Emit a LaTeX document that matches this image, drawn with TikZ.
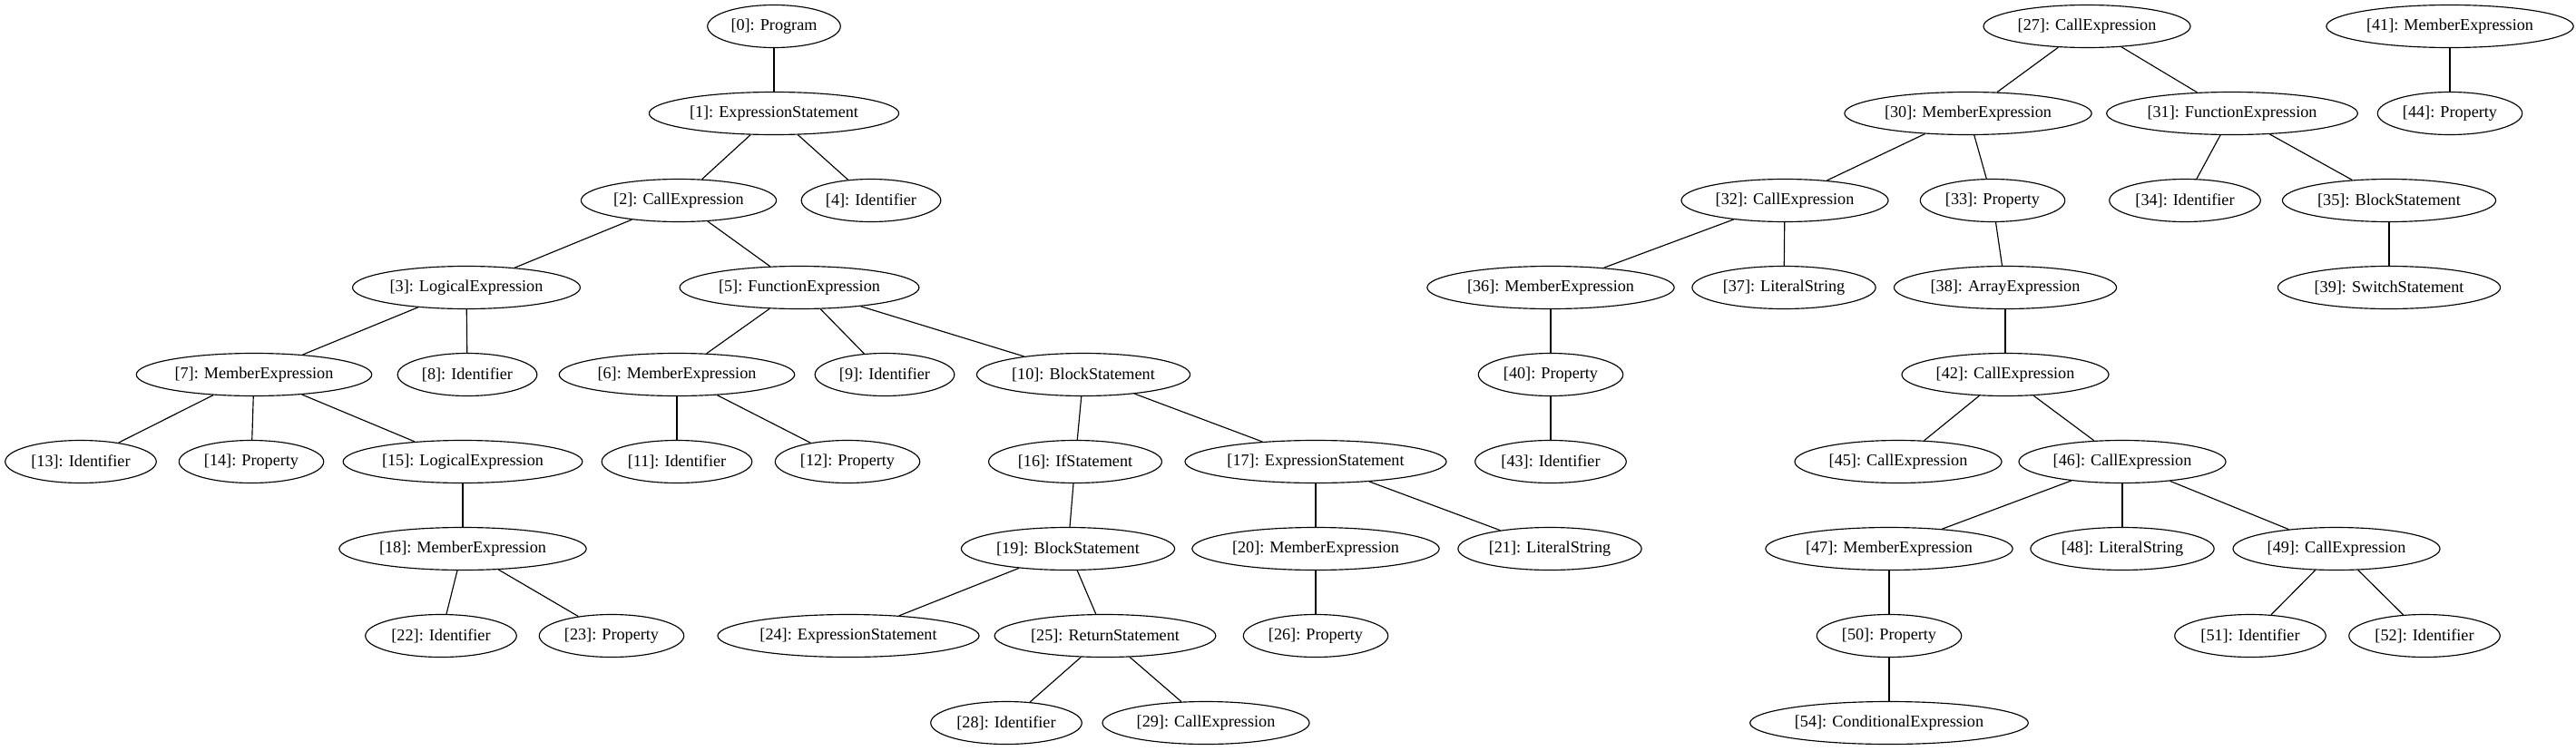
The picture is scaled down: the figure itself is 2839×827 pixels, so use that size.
\documentclass[tikz,border=0pt]{standalone}
\usepackage{fontspec}
\setmainfont{Liberation Serif}
\usetikzlibrary{shapes.geometric}
\begin{document}
\begin{tikzpicture}[x=1pt,y=-1pt,
  n/.style={draw, ellipse, line width=1.15pt, inner xsep=4.3pt, inner ysep=2pt, minimum height=47pt, font=\fontsize{18.2}{20}\selectfont},
  e/.style={line width=1.15pt}]
\useasboundingbox (0,0) rectangle (2839,827);
% row 0
\node[n] (n0) at (853,29) {[0]: Program};
\node[n] (n27) at (2300,29) {[27]: CallExpression};
\node[n] (n41) at (2700,29) {[41]: MemberExpression};
% row 1
\node[n] (n1) at (853,125) {[1]: ExpressionStatement};
\node[n] (n30) at (2169,125) {[30]: MemberExpression};
\node[n] (n31) at (2460,125) {[31]: FunctionExpression};
\node[n] (n44) at (2700,125) {[44]: Property};
% row 2
\node[n] (n2) at (748,221) {[2]: CallExpression};
\node[n] (n4) at (960,221) {[4]: Identifier};
\node[n] (n32) at (1967,221) {[32]: CallExpression};
\node[n] (n33) at (2196,221) {[33]: Property};
\node[n] (n34) at (2408,221) {[34]: Identifier};
\node[n] (n35) at (2633,221) {[35]: BlockStatement};
% row 3
\node[n] (n3) at (514,317) {[3]: LogicalExpression};
\node[n] (n5) at (881,317) {[5]: FunctionExpression};
\node[n] (n36) at (1709,317) {[36]: MemberExpression};
\node[n] (n37) at (1966,317) {[37]: LiteralString};
\node[n] (n38) at (2210,317) {[38]: ArrayExpression};
\node[n] (n39) at (2633,317) {[39]: SwitchStatement};
% row 4
\node[n] (n7) at (280,413) {[7]: MemberExpression};
\node[n] (n8) at (515,413) {[8]: Identifier};
\node[n] (n6) at (746,413) {[6]: MemberExpression};
\node[n] (n9) at (975,413) {[9]: Identifier};
\node[n] (n10) at (1194,413) {[10]: BlockStatement};
\node[n] (n40) at (1709,413) {[40]: Property};
\node[n] (n42) at (2210,413) {[42]: CallExpression};
% row 5
\node[n] (n13) at (89,509) {[13]: Identifier};
\node[n] (n14) at (277,509) {[14]: Property};
\node[n] (n15) at (510,509) {[15]: LogicalExpression};
\node[n] (n11) at (746,509) {[11]: Identifier};
\node[n] (n12) at (934,509) {[12]: Property};
\node[n] (n16) at (1185,509) {[16]: IfStatement};
\node[n] (n17) at (1450,509) {[17]: ExpressionStatement};
\node[n] (n43) at (1709,509) {[43]: Identifier};
\node[n] (n45) at (2092,509) {[45]: CallExpression};
\node[n] (n46) at (2339,509) {[46]: CallExpression};
% row 6
\node[n] (n18) at (510,605) {[18]: MemberExpression};
\node[n] (n19) at (1177,605) {[19]: BlockStatement};
\node[n] (n20) at (1450,605) {[20]: MemberExpression};
\node[n] (n21) at (1708,605) {[21]: LiteralString};
\node[n] (n47) at (2082,605) {[47]: MemberExpression};
\node[n] (n48) at (2339,605) {[48]: LiteralString};
\node[n] (n49) at (2575,605) {[49]: CallExpression};
% row 7
\node[n] (n22) at (486,701) {[22]: Identifier};
\node[n] (n23) at (674,701) {[23]: Property};
\node[n] (n24) at (935,701) {[24]: ExpressionStatement};
\node[n] (n25) at (1218,701) {[25]: ReturnStatement};
\node[n] (n26) at (1450,701) {[26]: Property};
\node[n] (n50) at (2082,701) {[50]: Property};
\node[n] (n51) at (2480,701) {[51]: Identifier};
\node[n] (n52) at (2672,701) {[52]: Identifier};
% row 8
\node[n] (n28) at (1109,797) {[28]: Identifier};
\node[n] (n29) at (1329,797) {[29]: CallExpression};
\node[n] (n54) at (2082,797) {[54]: ConditionalExpression};
% edges
\foreach \a/\b in {0/1,1/2,1/4,2/3,2/5,3/7,3/8,5/6,5/9,5/10,7/13,7/14,7/15,6/11,6/12,10/16,10/17,15/18,16/19,17/20,17/21,18/22,18/23,19/24,19/25,20/26,25/28,25/29,27/30,27/31,41/44,30/32,30/33,31/34,31/35,32/36,32/37,33/38,35/39,36/40,38/42,40/43,42/45,42/46,46/47,46/48,46/49,47/50,49/51,49/52,50/54}
  \draw[e] (n\a) -- (n\b);
\end{tikzpicture}
\end{document}
